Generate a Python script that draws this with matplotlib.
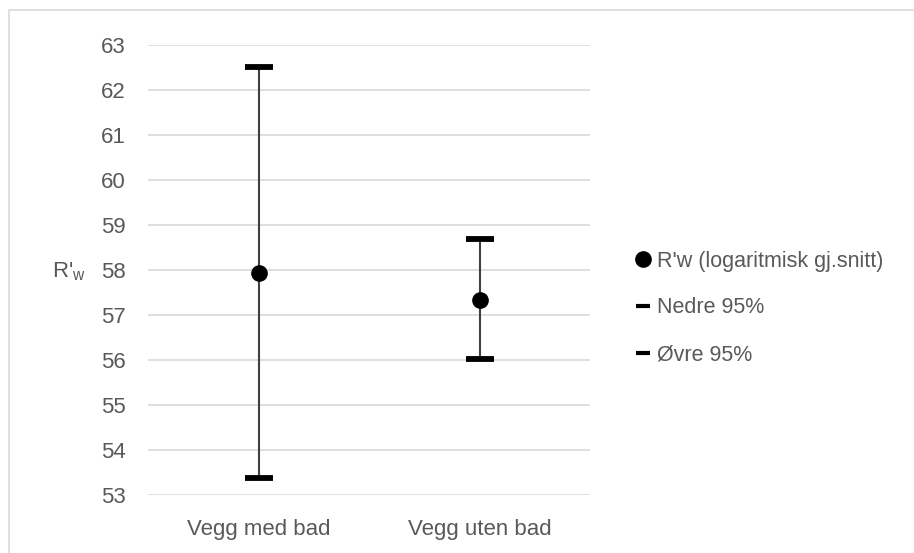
import matplotlib
matplotlib.use("Agg")
import matplotlib.pyplot as plt
from matplotlib.lines import Line2D
from matplotlib.patches import Rectangle

categories = ["Vegg med bad", "Vegg uten bad"]
mean_vals = [57.94, 57.34]
lower_vals = [53.37, 56.03]
upper_vals = [62.51, 58.70]
legend_labels = ["R'w (logaritmisk gj.snitt)", "Nedre 95%", "Øvre 95%"]

plt.rcParams['font.family'] = ['Liberation Sans', 'DejaVu Sans']
text_col = '#595959'
W, H = 914, 553

fig = plt.figure(figsize=(9.14, 5.53), dpi=100)
ax = fig.add_axes([148 / W, 1 - 495 / H, (590 - 148) / W, (495 - 45) / H])

# outer chart border (right and bottom edges fall outside the picture)
fig.patches.append(Rectangle((9 / W, -0.05), 1.0, 1 - 10 / H + 0.05,
                             transform=fig.transFigure, fill=False,
                             edgecolor='#d9d9d9', linewidth=1.2))

x = list(range(len(categories)))

# high-low lines
ax.vlines(x, lower_vals, upper_vals, color='#404040', linewidth=1.5, zorder=2)
# caps
ax.plot(x, lower_vals, linestyle='none', marker='_', markersize=20,
        markeredgewidth=4.2, color='black', zorder=3)
ax.plot(x, upper_vals, linestyle='none', marker='_', markersize=20,
        markeredgewidth=4.2, color='black', zorder=3)
# mean points
ax.plot(x, mean_vals, linestyle='none', marker='o', markersize=11,
        color='black', zorder=4)

ax.set_xlim(-0.5, 1.5)
ax.set_ylim(53, 63)
ax.set_yticks(range(53, 64))
ax.set_xticks(x)
ax.set_xticklabels(categories)
ax.tick_params(axis='both', length=0, labelsize=16, colors=text_col)
ax.tick_params(axis='y', pad=16)
ax.tick_params(axis='x', pad=17)
ax.grid(axis='y', color='#d9d9d9', linewidth=1.2)
ax.set_axisbelow(True)
for s in ax.spines.values():
    s.set_visible(False)

fig.text(52 / W, 1 - 272 / H, "R'$_{\\mathregular{w}}$", fontsize=16,
         color=text_col, ha='left', va='center')

handles = [
    Line2D([], [], linestyle='none', marker='o', markersize=11, color='black'),
    Line2D([], [], linestyle='none', marker='_', markersize=10, markeredgewidth=3, color='black'),
    Line2D([], [], linestyle='none', marker='_', markersize=10, markeredgewidth=3, color='black'),
]
leg = fig.legend(handles, legend_labels, loc='center left',
                 bbox_to_anchor=(634 / W, 1 - 308 / H), frameon=False,
                 fontsize=15.5, labelspacing=1.2, handlelength=0.8,
                 handletextpad=0.25, borderpad=0, borderaxespad=0)
for t in leg.get_texts():
    t.set_color(text_col)

fig.savefig("out.png", dpi=100)
